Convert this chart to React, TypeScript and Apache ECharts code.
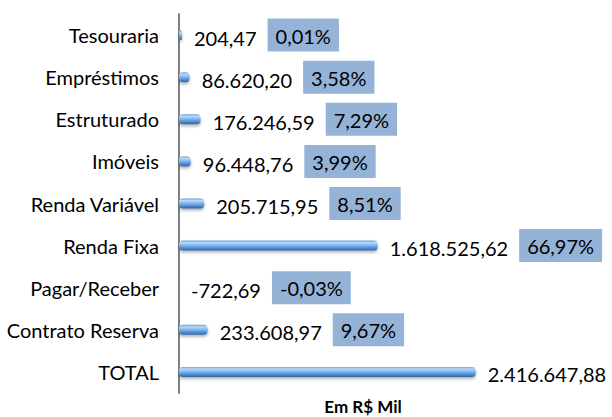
import React, { useEffect, useRef } from "react";
import * as echarts from "echarts";

const categories = [
  "Tesouraria",
  "Empréstimos",
  "Estruturado",
  "Imóveis",
  "Renda Variável",
  "Renda Fixa",
  "Pagar/Receber",
  "Contrato Reserva",
  "TOTAL",
];
const values = [
  204.47, 86620.2, 176246.59, 96448.76, 205715.95, 1618525.62, -722.69, 233608.97,
  2416647.88,
];
const percents = ["0,01%", "3,58%", "7,29%", "3,99%", "8,51%", "66,97%", "-0,03%", "9,67%", ""];
const axisName = "Em R$ Mil";

function fmtBR(v: number): string {
  const neg = v < 0;
  const a = Math.abs(v);
  const [intPart, dec] = a.toFixed(2).split(".");
  const withDots = intPart.replace(/\B(?=(\d{3})+(?!\d))/g, ".");
  return (neg ? "-" : "") + withDots + "," + dec;
}

export default function App() {
  const ref = useRef<HTMLDivElement>(null);
  useEffect(() => {
    if (!ref.current) return;
    const chart = echarts.init(ref.current, undefined, { renderer: "svg" });
    const font = "Lato, 'Open Sans', sans-serif";
    chart.setOption({
      animation: false,
      backgroundColor: "#ffffff",
      grid: { left: 179, right: 126, top: 14, bottom: 24, containLabel: false },
      xAxis: {
        type: "value",
        min: 0,
        max: 2500000,
        show: false,
        splitLine: { show: false },
      },
      yAxis: {
        type: "category",
        data: categories,
        inverse: true,
        axisLine: { show: true, onZero: false, lineStyle: { color: "#808080", width: 2 } },
        axisTick: { show: false },
        axisLabel: {
          color: "#000",
          fontFamily: font,
          fontSize: 20,
          margin: 20,
        },
        splitLine: { show: false },
      },
      graphic: [
        {
          type: "text",
          x: 363,
          y: 406,
          style: {
            text: axisName,
            fill: "#000",
            font: `bold 17px ${font}`,
            textAlign: "center",
            textVerticalAlign: "middle",
          },
        },
      ],
      series: [
        {
          type: "bar",
          data: values.map((v, i) => ({
            value: v,
            label: {
              formatter: percents[i]
                ? `{v|${fmtBR(v)}}{g|}{p|${percents[i]}}`
                : `{v|${fmtBR(v)}}`,
            },
          })),
          barWidth: 10,
          barMinHeight: 3,
          itemStyle: {
            borderRadius: 4,
            shadowBlur: 3,
            shadowOffsetY: 2,
            shadowColor: "rgba(0,0,0,0.3)",
            color: new echarts.graphic.LinearGradient(0, 0, 0, 1, [
              { offset: 0, color: "#6f9fd8" },
              { offset: 0.2, color: "#b8daf8" },
              { offset: 0.5, color: "#7ab4ee" },
              { offset: 0.8, color: "#4a84cc" },
              { offset: 1, color: "#2f5f9e" },
            ]),
          },
          label: {
            show: true,
            position: "right",
            distance: 12,
            rich: {
              v: { fontFamily: font, fontSize: 20, color: "#000", padding: [5, 0, 0, 0] },
              g: { width: 11 },
              p: {
                fontFamily: font,
                fontSize: 20,
                color: "#000",
                backgroundColor: "#95b3d7",
                padding: [7, 8, 6, 8],
              },
            },
          },
        },
      ],
    });
    return () => chart.dispose();
  }, []);
  return (
    <div
      ref={ref}
      style={{ position: "absolute", left: 0, top: 0, width: 612, height: 417 }}
    />
  );
}
